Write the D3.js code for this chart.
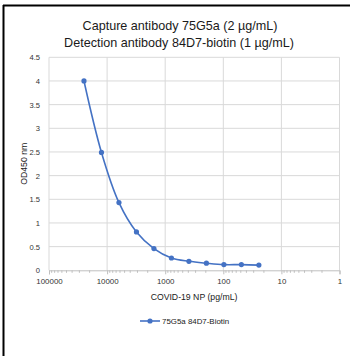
<!DOCTYPE html>
<html><head><meta charset="utf-8">
<script src="https://cdn.jsdelivr.net/npm/d3@7"></script>
<style>
html,body{margin:0;padding:0;background:#fff;}
svg{display:block;font-family:"Liberation Sans",Arial,sans-serif;}
</style></head>
<body>
<svg id="c" width="350" height="356"></svg>
<script>
const titleLines = ["Capture antibody 75G5a (2 µg/mL)", "Detection antibody 84D7-biotin (1 µg/mL)"];
const xLabel = "COVID-19 NP (pg/mL)";
const yLabel = "OD450 nm";
const seriesName = "75G5a 84D7-Biotin";
const concentrations = [25000, 12500, 6250, 3125, 1562.5, 781.25, 390.625, 195.3125, 97.65625, 48.828125, 24.4140625];
const od450 = [4.0, 2.49, 1.43, 0.81, 0.46, 0.26, 0.19, 0.15, 0.12, 0.12, 0.11];
const xTickValues = [100000, 10000, 1000, 100, 10, 1];
const yTickValues = [0, 0.5, 1, 1.5, 2, 2.5, 3, 3.5, 4, 4.5];

const svg = d3.select("#c");
const blue = "#4472C4";
const L = 49, R = 339.5, T = 57.3, B = 270.3;
const x = d3.scaleLog().domain([100000, 1]).range([L, R]);
const y = d3.scaleLinear().domain([0, 4.5]).range([B, T]);

// frame
svg.append("line").attr("x1", 3.5).attr("x2", 3.5).attr("y1", 5).attr("y2", 356).attr("stroke", "#000").attr("stroke-width", 2);
svg.append("line").attr("x1", 3).attr("x2", 350).attr("y1", 5.5).attr("y2", 5.5).attr("stroke", "#000").attr("stroke-width", 2);

// title
svg.append("text").attr("x", 180).attr("y", 29.5).attr("text-anchor", "middle").attr("font-size", 12.6).attr("fill", "#1a1a1a").text(titleLines[0]);
svg.append("text").attr("x", 179).attr("y", 47).attr("text-anchor", "middle").attr("font-size", 12.6).attr("fill", "#1a1a1a").text(titleLines[1]);

// gridlines
const g = svg.append("g");
g.selectAll(".hg").data(yTickValues.filter(d => d > 0)).join("line")
  .attr("x1", L).attr("x2", R).attr("y1", d => y(d)).attr("y2", d => y(d))
  .attr("stroke", "#d9d9d9").attr("stroke-width", 1);
g.selectAll(".vg").data(xTickValues).join("line")
  .attr("x1", d => x(d)).attr("x2", d => x(d)).attr("y1", T).attr("y2", B)
  .attr("stroke", "#d9d9d9").attr("stroke-width", 1);

// x axis
const xAxis = d3.axisBottom(x).tickValues(xTickValues).tickFormat(d3.format("d")).tickSize(4).tickPadding(4);
const xa = svg.append("g").attr("transform", `translate(0,${B})`).call(xAxis);
xa.select(".domain").attr("stroke", "#bfbfbf");
xa.selectAll(".tick line").attr("stroke", "#bfbfbf");
xa.selectAll(".tick text").attr("font-size", 7.9).attr("fill", "#333");
const minor = x.ticks().filter(d => !xTickValues.includes(d));
xa.selectAll(".minor").data(minor).join("line")
  .attr("x1", d => x(d)).attr("x2", d => x(d)).attr("y1", 0).attr("y2", 2.5)
  .attr("stroke", "#bfbfbf");

// y axis
const yAxis = d3.axisLeft(y).tickValues(yTickValues).tickFormat(d => d).tickSize(0).tickPadding(9);
const ya = svg.append("g").attr("transform", `translate(${L},0)`).call(yAxis);
ya.select(".domain").remove();
ya.selectAll(".tick text").attr("font-size", 7.6).attr("fill", "#333");

// axis labels
svg.append("text").attr("x", 194).attr("y", 300).attr("text-anchor", "middle").attr("font-size", 8.7).attr("fill", "#1a1a1a").text(xLabel);
svg.append("text").attr("transform", `translate(27,${(T + B) / 2}) rotate(-90)`).attr("text-anchor", "middle").attr("font-size", 8.7).attr("fill", "#1a1a1a").text(yLabel);

// series
const data = concentrations.map((c, i) => ({c, v: od450[i]}));
const line = d3.line().x(d => x(d.c)).y(d => y(d.v)).curve(d3.curveCatmullRom.alpha(0.5));
svg.append("path").datum(data).attr("d", line).attr("fill", "none").attr("stroke", blue).attr("stroke-width", 1.6);
svg.selectAll(".pt").data(data).join("circle")
  .attr("cx", d => x(d.c)).attr("cy", d => y(d.v)).attr("r", 2.6).attr("fill", blue);

// legend
const ly = 321;
svg.append("line").attr("x1", 140).attr("x2", 160).attr("y1", ly).attr("y2", ly).attr("stroke", blue).attr("stroke-width", 1.6);
svg.append("circle").attr("cx", 150).attr("cy", ly).attr("r", 2.6).attr("fill", blue);
svg.append("text").attr("x", 162).attr("y", ly + 2.7).attr("font-size", 7.9).attr("fill", "#1a1a1a").text(seriesName);
</script>
</body></html>
